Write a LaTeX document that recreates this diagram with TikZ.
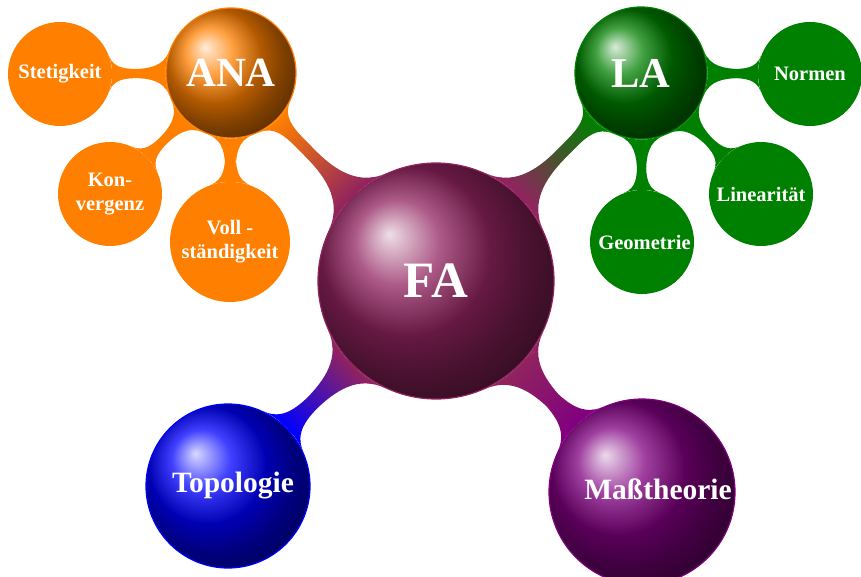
\documentclass[tikz,border=0pt]{standalone}
\usepackage{fontspec}
\setmainfont{Liberation Serif}
\usetikzlibrary{mindmap,backgrounds}
\definecolor{facol}{RGB}{145,35,95}
\colorlet{anacol}{orange}
\colorlet{lacol}{green!50!black}
\colorlet{topcol}{blue}
\colorlet{mascol}{violet}
\tikzset{
  ballnode/.style={circle, inner sep=0pt, text=white, align=center, line width=1.2pt},
  leafnode/.style={circle, inner sep=0pt, text=white, align=center,
    minimum size=104pt, font=\fontsize{20.5}{24}\selectfont\bfseries},
  mainbar/.style={line width=18pt},
  leafbar/.style={line width=12pt}
}
\begin{document}
\begin{tikzpicture}[x=1pt,y=-1pt]
\useasboundingbox (0,0) rectangle (861,577);
% main concepts
\node[ballnode, ball color=facol, draw=facol, minimum size=236pt,
  font=\fontsize{51}{55}\selectfont\bfseries] (fa) at (436,281) {FA};
\node[ballnode, ball color=anacol, draw=anacol, minimum size=130pt,
  font=\fontsize{41.5}{45}\selectfont\bfseries] (ana) at (231,73) {ANA};
\node[ballnode, ball color=lacol, draw=lacol, minimum size=132pt,
  font=\fontsize{42.5}{46}\selectfont\bfseries] (la) at (641,73) {LA};
\node[ballnode, ball color=topcol, draw=topcol, minimum size=164pt,
  font=\fontsize{29.5}{33}\selectfont\bfseries] (topo) at (228,486) {\hspace*{10pt}Topologie};
\node[ballnode, ball color=mascol, draw=mascol, minimum size=186pt,
  font=\fontsize{29.5}{33}\selectfont\bfseries] (mass) at (642,492) {\hspace*{32pt}\raisebox{5pt}{Maßtheorie}};
% leaves
\node[leafnode, fill=anacol] (stet) at (60,74) {Stetigkeit};
\node[leafnode, fill=anacol] (konv) at (110,194) {Kon-\\vergenz};
\node[leafnode, fill=anacol, minimum size=120pt] (voll) at (230,242) {Voll -\\ständigkeit};
\node[leafnode, fill=lacol] (norm) at (810,74) {Normen};
\node[leafnode, fill=lacol] (lin) at (761,194) {Linearität};
\node[leafnode, fill=lacol] (geo) at (642,242) {\hspace*{5pt}Geometrie};
% connections
\begin{pgfonlayer}{background}
\path[mainbar] (fa) to[circle connection bar switch color=from (facol) to (anacol)] (ana);
\path[mainbar] (fa) to[circle connection bar switch color=from (facol) to (lacol)] (la);
\path[mainbar] (fa) to[circle connection bar switch color=from (facol) to (topcol)] (topo);
\path[mainbar] (fa) to[circle connection bar switch color=from (facol) to (mascol)] (mass);
\path[leafbar] (ana) to[circle connection bar switch color=from (anacol) to (anacol)] (stet);
\path[leafbar] (ana) to[circle connection bar switch color=from (anacol) to (anacol)] (konv);
\path[leafbar] (ana) to[circle connection bar switch color=from (anacol) to (anacol)] (voll);
\path[leafbar] (la) to[circle connection bar switch color=from (lacol) to (lacol)] (norm);
\path[leafbar] (la) to[circle connection bar switch color=from (lacol) to (lacol)] (lin);
\path[leafbar] (la) to[circle connection bar switch color=from (lacol) to (lacol)] (geo);
\end{pgfonlayer}
\end{tikzpicture}
\end{document}
